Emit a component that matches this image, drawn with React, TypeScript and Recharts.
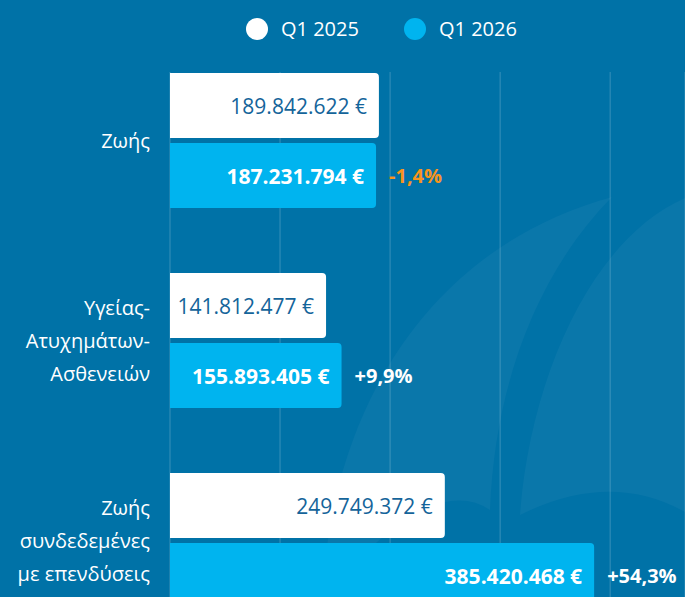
import React from 'react';
import { BarChart, Bar, XAxis, YAxis, CartesianGrid, Legend, LabelList } from 'recharts';

const categories = ['Ζωής', 'Υγείας-\nΑτυχημάτων-\nΑσθενειών', 'Ζωής\nσυνδεδεμένες\nμε επενδύσεις'];
const q1_2025 = [189842622, 141812477, 249749372];
const q1_2026 = [187231794, 155893405, 385420468];
const changes = ['-1,4%', '+9,9%', '+54,3%'];
const xTicks = [0, 100000000, 200000000, 300000000, 400000000];

const data = categories.map((name, i) => ({
    name,
    q2025: q1_2025[i],
    q2026: q1_2026[i],
    change: changes[i],
}));

const FONT = '"Open Sans", sans-serif';
const BG = '#0072a7';
const WHITE_BAR = '#ffffff';
const BLUE_BAR = '#00b4ef';
const DARK_TEXT = '#14649a';
const ORANGE = '#f7941d';

function fmt(v: number) {
    const s = String(Math.round(v));
    let out = '';
    for (let i = 0; i < s.length; i++) {
        if (i > 0 && (s.length - i) % 3 === 0) out += '.';
        out += s[i];
    }
    return out + ' €';
}

const CategoryTick = (props: any) => {
    const { x, y, payload } = props;
    const lines = String(payload.value).split('\n');
    const lh = 33;
    return (
        <text x={x} y={y} textAnchor="end" fill="#ffffff" fontSize={20} fontFamily={FONT} dominantBaseline="central">
            {lines.map((l, i) => (
                <tspan key={i} x={x} y={y + (i - (lines.length - 1) / 2) * lh} dominantBaseline="central">
                    {l}
                </tspan>
            ))}
        </text>
    );
};

const ValueLabel = (color: string, weight: number) => (props: any) => {
    const { x, y, width, height, value } = props;
    return (
        <text
            x={x + width - 12}
            y={y + height / 2}
            textAnchor="end"
            dominantBaseline="central"
            fill={color}
            fontSize={21}
            fontWeight={weight}
            fontFamily={FONT}
        >
            {fmt(value)}
        </text>
    );
};

const ChangeLabel = (props: any) => {
    const { x, y, width, height, value } = props;
    const neg = String(value).startsWith('-');
    return (
        <text
            x={x + width + 13}
            y={y + height / 2}
            textAnchor="start"
            dominantBaseline="central"
            fill={neg ? ORANGE : '#ffffff'}
            fontSize={20}
            fontWeight={700}
            fontFamily={FONT}
        >
            {value}
        </text>
    );
};

const LegendContent = () => (
    <div
        style={{
            height: 40,
            paddingTop: 18,
            boxSizing: 'border-box',
            display: 'flex',
            alignItems: 'center',
            paddingLeft: 246,
            fontFamily: FONT,
            fontSize: 20,
            color: '#ffffff',
        }}
    >
        {[
            { label: 'Q1 2025', color: WHITE_BAR },
            { label: 'Q1 2026', color: BLUE_BAR },
        ].map((it, i) => (
            <div key={i} style={{ display: 'flex', alignItems: 'center', height: 22, marginRight: 45 }}>
                <span style={{ width: 22, height: 22, borderRadius: 11, background: it.color, marginRight: 13 }} />
                <span style={{ lineHeight: '22px' }}>{it.label}</span>
            </div>
        ))}
    </div>
);

export default function App() {
    return (
        <div
            style={{
                position: 'fixed',
                top: 0,
                left: 0,
                width: 685,
                height: 597,
                overflow: 'hidden',
                background: BG,
            }}
        >
            {/* faint background swirl */}
            <svg width={685} height={597} style={{ position: 'absolute', top: 0, left: 0 }}>
                <path
                    d="M 322 600 C 330 420 420 250 612 197 C 540 270 495 380 490 510 Q 430 470 322 600 Z"
                    fill="#ffffff"
                    opacity={0.04}
                />
                <path
                    d="M 520 515 C 530 380 590 240 685 198 L 685 512 Q 610 470 520 515 Z"
                    fill="#ffffff"
                    opacity={0.04}
                />
            </svg>
            <div style={{ position: 'absolute', top: 0, left: 0 }}>
                <BarChart
                    width={685}
                    height={680}
                    data={data}
                    layout="vertical"
                    margin={{ top: 0, right: 0, bottom: 40, left: 0 }}
                    barSize={65}
                    barGap={5}
                >
                    <CartesianGrid horizontal={false} stroke="rgba(255,255,255,0.22)" y={72} height={600} />
                    <XAxis type="number" domain={[0, 468000000]} ticks={xTicks} hide />
                    <YAxis
                        type="category"
                        dataKey="name"
                        width={170}
                        axisLine={false}
                        tickLine={false}
                        tickMargin={14}
                        tick={<CategoryTick />}
                        interval={0}
                    />
                    <Legend verticalAlign="top" content={<LegendContent />} wrapperStyle={{ top: 0, left: 0, width: 685 }} />
                    <Bar dataKey="q2025" name="Q1 2025" fill={WHITE_BAR} radius={[0, 4, 4, 0]} isAnimationActive={false}>
                        <LabelList dataKey="q2025" content={ValueLabel(DARK_TEXT, 400)} />
                    </Bar>
                    <Bar dataKey="q2026" name="Q1 2026" fill={BLUE_BAR} radius={[0, 4, 4, 0]} isAnimationActive={false}>
                        <LabelList dataKey="q2026" content={ValueLabel('#ffffff', 700)} />
                        <LabelList dataKey="change" content={ChangeLabel} />
                    </Bar>
                </BarChart>
            </div>
        </div>
    );
}
